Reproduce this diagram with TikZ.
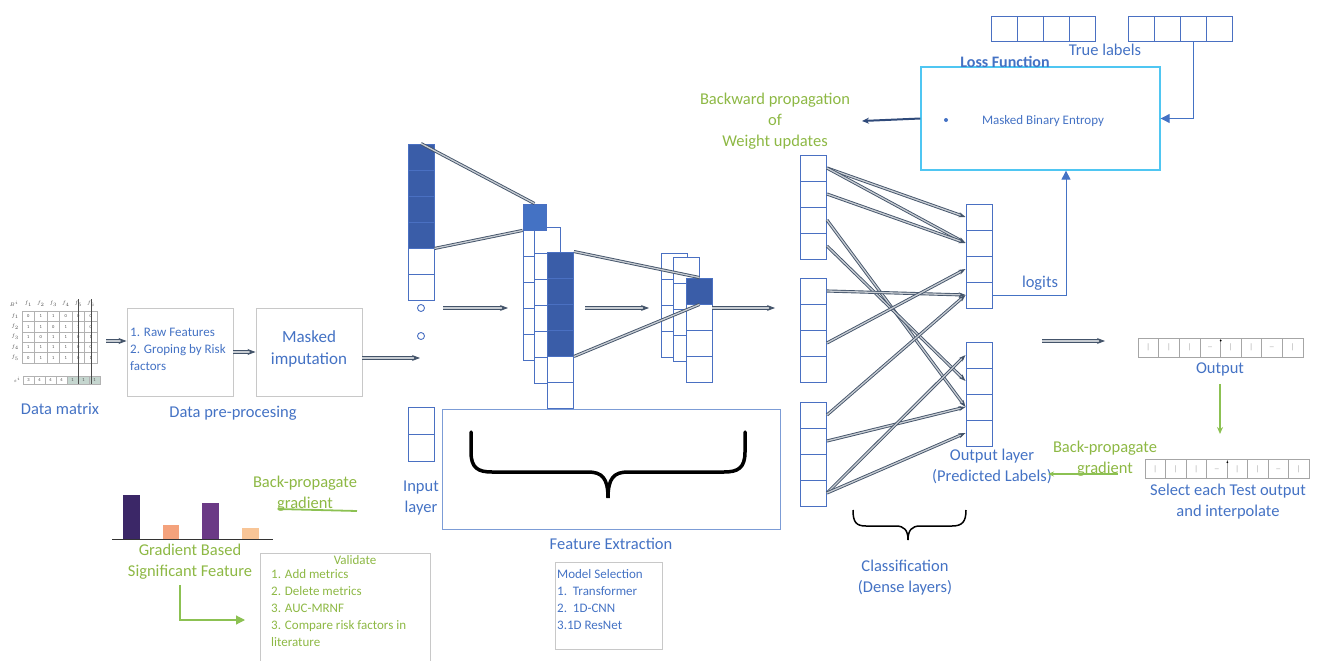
\documentclass[tikz,border=0pt]{standalone}
\usepackage{fontspec}
\setmainfont{Carlito}
\usetikzlibrary{arrows.meta,positioning}

\definecolor{txtblue}{HTML}{4472C4}
\definecolor{cellblue}{HTML}{4A70C2}
\definecolor{darkfill}{HTML}{3A5DA8}
\definecolor{losscyan}{HTML}{4FC6F2}
\definecolor{slate}{HTML}{44546A}
\definecolor{navy}{HTML}{2F4A7A}
\definecolor{txtgreen}{HTML}{8DB844}
\definecolor{arrgreen}{HTML}{8CC152}
\definecolor{boxgray}{HTML}{C8C8C8}
\definecolor{barA}{HTML}{3B2767}
\definecolor{barB}{HTML}{F4A27C}
\definecolor{barC}{HTML}{6B3A86}
\definecolor{barD}{HTML}{F8C597}
\definecolor{mshade}{HTML}{C5D6CF}

\tikzset{
  lbl/.style={text=txtblue,font=\fontsize{16.5}{21}\selectfont,align=center,inner sep=0pt},
  smalltxt/.style={lbl,font=\fontsize{13}{17}\selectfont},
  glbl/.style={lbl,text=txtgreen},
  gsmall/.style={smalltxt,text=txtgreen},
  mtxt/.style={inner sep=0pt,font=\fontsize{4.5}{5}\selectfont,text=black!70},
  mcell/.style={mtxt,draw=gray!60,line width=0.4pt,minimum width=12.5pt,minimum height=10.4pt},
  cell/.style={draw=cellblue,fill=white,line width=0.9pt,minimum width=26pt,minimum height=26pt,inner sep=0pt},
  narrowcell/.style={cell,minimum width=12pt},
  dark/.style={cell,fill=darkfill},
  vecc/.style={draw=gray!70,fill=white,line width=0.6pt,minimum width=20.6pt,minimum height=19pt,inner sep=0pt,text=gray!70,font=\fontsize{8}{8}\selectfont},
  plainbox/.style={draw=boxgray,line width=0.9pt,inner sep=0pt},
  conn/.style={draw=slate,line width=0.9pt,double=slate!30,double distance=1.3pt},
  flow/.style={conn,-{Stealth[length=8pt,width=6pt]}},
  dense/.style={conn,-{Stealth[length=7pt,width=5pt]}},
  garrow/.style={draw=arrgreen,line width=1.8pt},
  bluearr/.style={draw=txtblue,line width=1pt,-{Triangle[length=9pt,width=9pt]}}
}

\begin{document}
\begin{tikzpicture}[x=1pt,y=-1pt]
\useasboundingbox (0,0) rectangle (1320,661);

% data matrix
\node[mtxt] (mh0) at (14,304) {$B^i$};
\foreach \c in {1,...,6} \node[mtxt] (mh\c) at (15.75+12.5*\c,304) {$f_\c$};
\foreach \vals [count=\r] in {{0,1,1,0,0,0},{1,1,0,1,1,0},{1,0,1,1,0,1},{1,1,1,1,0,0},{0,1,1,1,0,1}} {
  \node[mtxt] (mr\r) at (15,305.8+10.4*\r) {$f_\r$};
  \foreach \v [count=\c] in \vals \node[mcell] (m\r\c) at (15.75+12.5*\c,305.8+10.4*\r) {\v};
}
\node[mtxt] (ms0) at (17,380) {$s^i$};
\foreach \v [count=\i] in {3,4,4,4} \node[mcell,minimum width=11pt,minimum height=8pt] (sv\i) at (17.5+11*\i,380) {\v};
\foreach \i in {5,6,7} \node[mcell,fill=mshade,minimum width=11pt,minimum height=8pt] (sv\i) at (17.5+11*\i,380) {1};
\draw[black!70,line width=0.5pt] (78.25,299) -- (78.25,384) (90.75,299) -- (90.75,384);
\node[lbl] (dmlbl) at (60,409) {Data matrix};

% pre-processing
\node[plainbox,minimum width=106pt,minimum height=88pt] (pre) at (180,352) {};
\node[smalltxt,align=left,anchor=west] (pretxt) at (130,349) {1. Raw Features\\2. Groping by Risk\\factors};
\node[plainbox,minimum width=106pt,minimum height=88pt] (imp) at (309,352) {};
\node[lbl,font=\fontsize{17}{22}\selectfont] (imptxt) at (309,349) {Masked\\imputation};
\node[lbl] (prelbl) at (233,413) {Data pre-procesing};
\coordinate (dmout) at (106,341);
\coordinate (inarr) at (420,358);
\draw[flow] (dmout) -- ([yshift=11pt]pre.west);
\draw[flow] (pre.east) -- (imp.west);
\draw[flow] ([yshift=-6pt]imp.east) -- (inarr);

% input layer
\foreach \i in {1,...,4} \node[dark] (in\i) at (421,131+26*\i) {};
\foreach \i in {5,6} \node[cell] (in\i) at (421,131+26*\i) {};
\node[circle,draw=cellblue,line width=0.9pt,minimum size=7pt,inner sep=0pt] (dot1) at (421,308) {};
\node[circle,draw=cellblue,line width=0.9pt,minimum size=7pt,inner sep=0pt] (dot2) at (421,336) {};
\node[cell,minimum height=27pt] (inb1) at (421,420.5) {};
\node[cell,minimum height=27pt] (inb2) at (421,447.5) {};
\node[lbl] (inlbl) at (421,498) {Input\\layer};

% feature extraction stage 1
\foreach \i in {1,...,5} \node[narrowcell] (ca\i) at (529,243+26*\i-26) {};
\foreach \i in {1,...,6} \node[cell] (cb\i) at (547,240+26*\i-26) {};
\node[cell,fill=txtblue,minimum width=23pt] (s0) at (534.5,217) {};
\foreach \i in {1,...,4} \node[dark] (cc\i) at (560.5,265+26*\i-26) {};
\foreach \i in {5,6} \node[cell] (cc\i) at (560.5,265+26*\i-26) {};
\draw[conn] (in1.north) -- (s0.north);
\draw[conn] (in4.south east) -- (s0.south west);

% feature extraction stage 2
\foreach \i in {1,...,4} \node[cell] (cd\i) at (674,266+26*\i-26) {};
\foreach \i in {1,...,4} \node[cell] (ce\i) at (686.5,270+26*\i-26) {};
\node[dark] (cf1) at (699.5,291) {};
\foreach \i in {2,3,4} \node[cell] (cf\i) at (699.5,291+26*\i-26) {};
\draw[conn] (cc1.north east) -- (cf1.north);
\draw[conn] (cc4.south east) -- (cf1.south);

\coordinate (a1) at (443,308); \coordinate (a2) at (508,308);
\coordinate (b1) at (585,308); \coordinate (b2) at (649,308);
\coordinate (c1) at (712,308); \coordinate (c2) at (775,308);
\draw[flow] (a1) -- (a2);
\draw[flow] (b1) -- (b2);
\draw[flow] (c1) -- (c2);

\node[draw=txtblue!70,line width=0.8pt,minimum width=338pt,minimum height=120pt,inner sep=0pt] (fe) at (611,469) {};
\draw[line width=3.5pt,line cap=round] (471,432) -- (471,452) .. controls (471,468) and (478,472) .. (492,472) -- (588,472) .. controls (602,472) and (608,478) .. (608,498) .. controls (608,478) and (614,472) .. (628,472) -- (724,472) .. controls (738,472) and (745,468) .. (745,452) -- (745,432);
\node[lbl] (felbl) at (611,544) {Feature Extraction};
\node[plainbox,minimum width=107pt,minimum height=87pt] (ms) at (608.5,605.5) {};
\node[smalltxt,align=left,anchor=north west] (mstxt) at (557,569) {Model Selection\\1.\ \ Transformer\\2.\ \ 1D-CNN\\3.1D ResNet};

% dense layers
\foreach \g/\y in {1/168,2/291,3/415}
  \foreach \i in {1,...,4} \node[cell] (g\g-\i) at (813.5,\y+26*\i-26) {};
\foreach \i in {1,...,4} \node[cell] (o1-\i) at (979,217+26*\i-26) {};
\foreach \i in {1,...,4} \node[cell] (o2-\i) at (979,355+26*\i-26) {};
\foreach \s/\t in {g1-1/o1-1,g1-1/o1-2,g1-2/o1-2,g1-3/o2-3,g1-4/o2-2,g2-1/o1-4,g2-3/o1-3,g3-1/o1-4,g3-2/o2-3,g3-4/o2-1,g3-4/o2-4}
  \draw[dense] (\s.east) -- (\t.west);
\node[lbl] (outlayer) at (992,466) {Output layer\\(Predicted Labels)};
\draw[line width=1.5pt] (853,510) .. controls (853,522) and (856,526) .. (866,526) -- (896,526) .. controls (904,526) and (908,530) .. (908,540) .. controls (908,530) and (912,526) .. (920,526) -- (952,526) .. controls (962,526) and (966,522) .. (966,510);
\node[lbl] (clslbl) at (905,578) {Classification\\(Dense layers)};

% loss
\node[draw=losscyan,line width=1.3pt,minimum width=239pt,minimum height=103pt,inner sep=0pt] (loss) at (1040.5,118.5) {};
\node[lbl,font=\fontsize{16}{19}\selectfont\bfseries] (losslbl) at (1005,62) {Loss Function};
\node[circle,fill=txtblue,minimum size=4pt,inner sep=0pt] (bul) at (946,120) {};
\node[smalltxt] (mbe) at (1043,121) {Masked Binary Entropy};
\foreach \i in {1,...,4} \node[cell,minimum height=25pt] (t1-\i) at (1004+26*\i-26,28.5) {};
\foreach \i in {1,...,4} \node[cell,minimum height=25pt] (t2-\i) at (1141+26*\i-26,28.5) {};
\node[lbl] (truelbl) at (1105,50) {True labels};
\draw[bluearr] (t2-3.south) |- (loss.east);
\draw[bluearr] (o1-4.east) -| ([xshift=25.5pt]loss.south);
\node[lbl] (logits) at (1040,283) {logits};
\coordinate (bw) at (862,121);
\draw[draw=navy,line width=2pt,-{Stealth[length=7pt,width=6pt]}] (loss.west) -- (bw);
\node[glbl] (bwlbl) at (775,121) {Backward propagation\\of\\Weight updates};

% output
\coordinate (d1) at (1042,341); \coordinate (d2) at (1105,341);
\draw[flow] (d1) -- (d2);
\foreach \m [count=\i] in {|,|,|,\_,|,|,\_,|} \node[vecc] (out\i) at (1127.7+20.6*\i,347.5) {\m};
\fill (out4.north east) ++(0,3) circle (1pt);
\node[lbl] (outlbl) at (1220,369) {Output};
\foreach \m [count=\i] in {|,|,|,\_,|,|,\_,|} \node[vecc] (sel\i) at (1134.75+20.5*\i,469) {\m};
\fill (sel4.north east) ++(0,3) circle (1pt);
\node[lbl] (sellbl) at (1228,502) {Select each Test output\\and interpolate};
\coordinate (g1) at (1220,434);
\draw[garrow,-{Stealth[length=7pt,width=6pt,open]}] ([yshift=-8pt]outlbl.south) -- (g1);
\node[glbl] (bplbl) at (1105,459) {Back-propagate\\gradient};
\coordinate (bp1) at (1118,474); \coordinate (bp2) at (1048,474);
\draw[garrow,-{Stealth[length=6pt,width=5pt,open]}] (bp1) -- (bp2);

% significant features
\fill[barA] (123,495) rectangle (140,539);
\fill[barB] (163,525) rectangle (179,539);
\fill[barC] (202,503) rectangle (219,539);
\fill[barD] (242,528) rectangle (259,539);
\draw[black!80,line width=1pt] (112,539.5) -- (273,539.5);
\node[glbl] (gblbl) at (190,562) {Gradient Based\\Significant Feature};
\node[glbl] (bpl2) at (305,494) {Back-propagate\\gradient};
\coordinate (gl1) at (278,509); \coordinate (gl2) at (357,511);
\draw[garrow] (gl1) -- (gl2);
\draw[plainbox] (260,553) rectangle (430,670);
\node[gsmall] (valhd) at (355,560) {Validate};
\node[gsmall,align=left,anchor=north west] (vallist) at (271,569) {1. Add metrics\\2. Delete metrics\\3. AUC-MRNF\\3. Compare risk factors in\\literature};
\coordinate (va) at (245,620);
\draw[garrow,line width=1.2pt,-{Triangle[length=9pt,width=9pt]}] ([xshift=-10pt,yshift=-5pt]gblbl.south) |- (va);
\end{tikzpicture}
\end{document}
